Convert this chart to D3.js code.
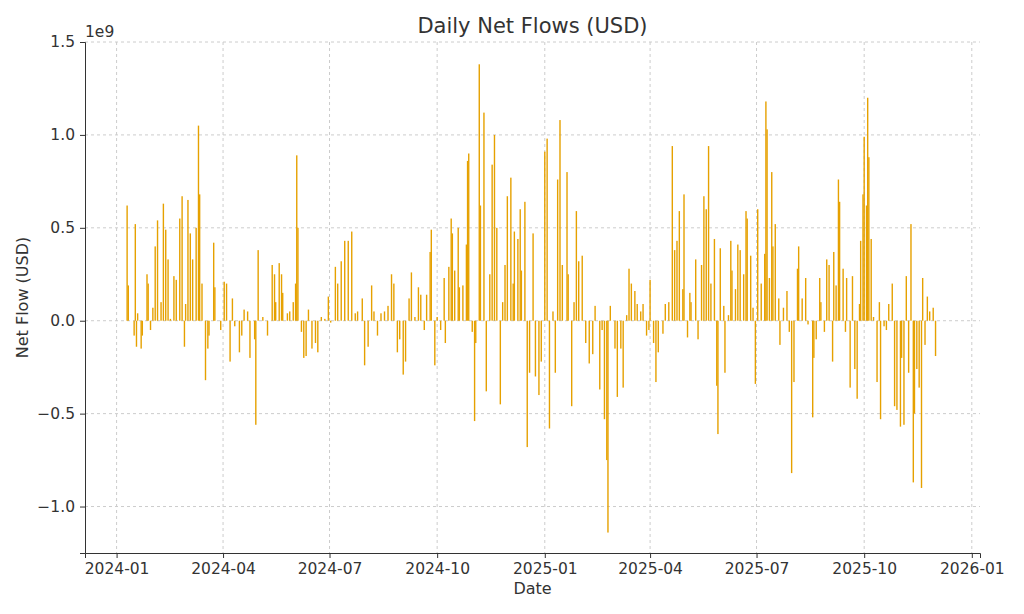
<!DOCTYPE html>
<html><head><meta charset="utf-8">
<script src="https://cdn.jsdelivr.net/npm/d3@7"></script>
<style>body{margin:0;background:#fff;font-family:"DejaVu Sans",sans-serif}</style>
</head><body><svg id="c" width="1024" height="614"></svg>
<script>
// days since 2024-01-01
var days = [9,10,15,16,17,18,21,22,26,27,29,31,33,35,38,40,42,44,46,49,51,54,56,58,59,61,63,65,68,70,71,73,76,78,79,83,84,89,92,94,97,99,101,105,107,109,112,114,118,119,121,125,129,133,135,136,139,141,142,146,148,151,153,154,155,158,160,162,164,167,170,172,175,178,181,183,187,189,192,195,198,201,204,206,210,212,215,218,220,223,226,229,232,235,237,240,242,245,247,250,252,255,258,260,263,265,268,269,272,274,277,280,281,284,286,287,289,292,293,296,299,300,301,304,306,307,310,311,314,316,319,321,323,325,328,330,332,334,337,339,340,343,345,346,349,351,353,356,358,361,363,366,368,370,373,375,377,379,381,385,386,389,391,393,395,398,401,404,407,409,413,415,417,419,420,422,426,428,431,433,436,438,440,443,445,448,450,453,455,456,459,461,463,467,469,472,475,477,479,481,484,485,488,490,491,495,497,500,502,504,506,508,511,513,514,516,519,520,523,525,526,529,531,533,536,538,539,542,544,546,548,551,554,555,556,558,560,561,563,566,567,570,573,575,577,579,582,583,586,589,591,595,596,598,601,602,605,607,609,612,613,615,617,618,621,623,624,627,629,631,633,635,636,638,639,641,642,643,645,647,650,652,653,656,658,660,663,665,667,670,671,673,675,677,679,681,682,684,686,688,689,691,693,695,698,700];
// net flow, billions USD
var flows = [0.62,0.19,-0.08,0.52,-0.14,0.04,-0.15,-0.08,0.25,0.2,-0.05,0.07,0.4,0.54,0.1,0.63,0.49,0.33,0.01,0.24,0.22,0.55,0.67,-0.14,0.09,0.65,0.47,0.33,0.5,1.05,0.68,0.2,-0.32,-0.15,-0.08,0.42,0.18,-0.05,0.21,0.2,-0.22,0.12,-0.03,-0.17,-0.08,0.06,0.05,-0.2,-0.1,-0.56,0.38,0.02,-0.08,0.3,0.25,0.1,0.31,0.25,0.15,0.04,0.05,0.1,0.2,0.89,0.5,-0.06,-0.2,-0.19,0.06,-0.15,-0.12,-0.17,0.02,0.01,0.13,-0.01,0.29,0.2,0.32,0.43,0.43,0.48,0.04,0.05,0.12,-0.24,-0.14,0.19,0.05,-0.08,0.04,0.05,0.08,0.25,0.2,-0.17,-0.1,-0.29,-0.22,0.12,0.26,0.02,0.18,0.14,-0.05,0.14,0.37,0.49,-0.24,0.02,-0.05,0.23,-0.12,0.29,0.55,0.47,0.27,0.5,0.18,0.19,0.41,0.86,0.9,-0.06,-0.54,-0.12,1.38,0.62,1.12,-0.38,0.25,0.84,1.0,0.5,-0.45,0.1,0.3,0.67,0.77,0.2,0.48,0.44,0.6,0.27,0.64,-0.68,-0.28,0.47,-0.3,-0.4,-0.22,0.91,0.98,-0.58,0.05,-0.28,0.76,1.08,0.3,0.8,0.25,-0.46,0.1,0.59,0.32,0.35,-0.12,-0.23,-0.18,0.08,-0.37,-0.05,-0.53,-0.75,-1.14,0.08,-0.15,-0.41,-0.15,-0.36,0.03,0.28,0.2,0.16,0.09,0.05,0.09,-0.08,-0.05,0.22,-0.12,-0.33,-0.17,-0.07,0.09,0.1,0.94,0.38,0.43,0.59,0.17,0.68,-0.09,0.15,0.1,0.33,-0.1,0.3,0.67,0.6,0.94,0.2,0.44,-0.35,-0.61,0.39,0.08,-0.28,0.03,0.43,0.27,0.17,0.41,0.38,0.25,0.59,0.55,0.35,0.07,-0.34,0.6,0.2,0.36,1.18,1.03,0.23,0.8,0.4,0.52,0.12,-0.13,0.07,0.16,-0.06,-0.82,-0.33,0.28,0.4,0.12,0.23,-0.02,-0.52,-0.2,-0.1,0.23,0.1,-0.06,0.33,0.3,-0.22,0.37,0.19,0.76,0.64,0.28,-0.06,0.23,-0.36,0.24,-0.26,-0.42,0.09,0.43,0.68,0.99,0.62,1.2,0.88,0.44,0.02,-0.33,0.1,-0.53,-0.03,-0.05,0.09,0.2,-0.46,-0.48,-0.57,-0.2,-0.56,0.24,-0.28,0.52,-0.87,-0.5,-0.26,-0.36,-0.9,0.23,-0.13,0.13,0.05,0.07,-0.19];
var yTicks = [-1.0,-0.5,0.0,0.5,1.0,1.5];
var xTicks = ["2024-01","2024-04","2024-07","2024-10","2025-01","2025-04","2025-07","2025-10","2026-01"];

var svg = d3.select("#c");
var m = {l:85, r:44, t:42, b:61};
var W = 1024, H = 614;
var base = new Date(2024,0,1);
var parse = d3.timeParse("%Y-%m");
var x = d3.scaleTime().domain([new Date(2023,11,5), new Date(2026,0,8)]).range([m.l, W-m.r]);
var y = d3.scaleLinear().domain([-1.25,1.5]).range([H-m.b, m.t]);
var data = days.map(function(d,i){ return {date: d3.timeDay.offset(base,d), v: flows[i]}; });

var g = svg.append("g");
g.selectAll(".gx").data(xTicks).enter().append("line")
  .attr("x1",d=>x(parse(d))).attr("x2",d=>x(parse(d))).attr("y1",m.t).attr("y2",H-m.b)
  .attr("stroke","#ccc").attr("stroke-dasharray","3,3");
g.selectAll(".gy").data(yTicks).enter().append("line")
  .attr("x1",m.l).attr("x2",W-m.r).attr("y1",d=>y(d)).attr("y2",d=>y(d))
  .attr("stroke","#ccc").attr("stroke-dasharray","3,3");

svg.selectAll(".bar").data(data).enter().append("rect")
  .attr("x",d=>x(d.date)-0.7).attr("width",1.4)
  .attr("y",d=>y(Math.max(0,d.v))).attr("height",d=>Math.abs(y(d.v)-y(0)))
  .attr("fill","#e6a100");

var xa = svg.append("g").attr("transform","translate(0,"+(H-m.b)+")")
  .call(d3.axisBottom(x).tickValues(xTicks.map(parse)).tickFormat(d3.timeFormat("%Y-%m")).tickSizeOuter(0).tickSize(5).tickPadding(5));
var ya = svg.append("g").attr("transform","translate("+m.l+",0)")
  .call(d3.axisLeft(y).tickValues(yTicks).tickFormat(d=>d===0?"0.0":d3.format(".1f")(d).replace("-","\u2212")).tickSizeOuter(0).tickSize(5).tickPadding(5));
[xa,ya].forEach(function(a){
  a.selectAll("text").attr("font-size",15.5).attr("fill","#333").attr("font-family","DejaVu Sans");
  a.selectAll("line").attr("stroke","#333");
});
xa.select(".domain").attr("stroke","#333");
ya.select(".domain").attr("stroke","#333");

svg.append("text").attr("x",(m.l+W-m.r)/2).attr("y",33).attr("text-anchor","middle")
  .attr("font-size",21).attr("fill","#333").text("Daily Net Flows (USD)");
svg.append("text").attr("x",(m.l+W-m.r)/2).attr("y",594).attr("text-anchor","middle")
  .attr("font-size",16).attr("fill","#333").text("Date");
svg.append("text").attr("transform","translate(28,"+((m.t+H-m.b)/2)+") rotate(-90)")
  .attr("text-anchor","middle").attr("font-size",16).attr("fill","#333").text("Net Flow (USD)");
svg.append("text").attr("x",m.l).attr("y",37).attr("font-size",15.5).attr("fill","#333").text("1e9");
</script></body></html>
